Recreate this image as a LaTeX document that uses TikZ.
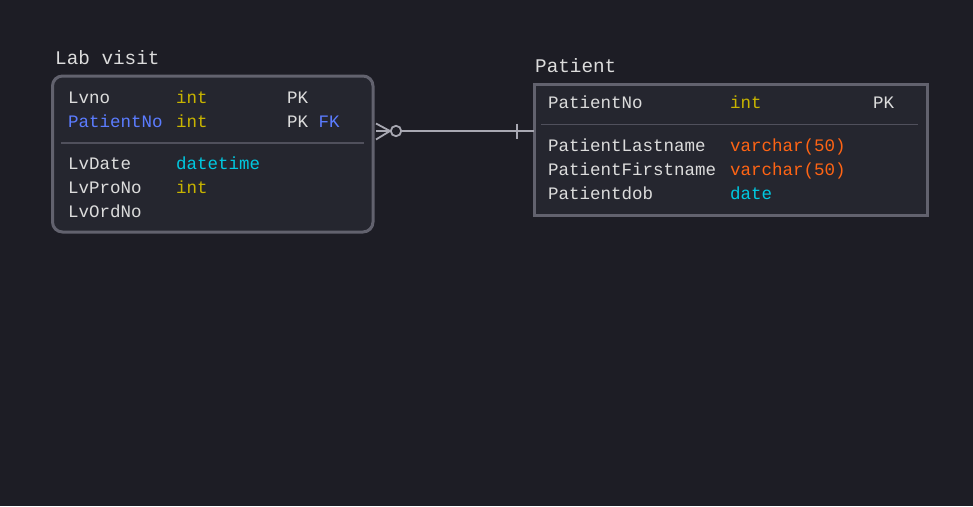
\documentclass[tikz,border=0pt]{standalone}
\usepackage{fontspec}
\setmonofont{Liberation Mono}
\usepackage{tikz}
\usetikzlibrary{positioning,calc}
\definecolor{bgdark}{HTML}{1D1D25}
\definecolor{boxfill}{HTML}{25262F}
\definecolor{boxline}{HTML}{62626E}
\definecolor{divline}{HTML}{50505C}
\definecolor{txtwhite}{HTML}{DCDCDC}
\definecolor{typeyel}{HTML}{C8B400}
\definecolor{keyblue}{HTML}{5B7CFF}
\definecolor{typecyan}{HTML}{00C8E0}
\definecolor{typeorange}{HTML}{FF6414}
\definecolor{connline}{HTML}{A8A8B2}

\begin{document}
\begin{tikzpicture}[x=1pt, y=-1pt,
  cell/.style={font=\ttfamily\fontsize{17.5}{20}\selectfont, txtwhite, inner sep=0pt, anchor=base west},
  title/.style={cell, font=\ttfamily\fontsize{19.3}{22}\selectfont},
  table/.style={draw=boxline, line width=3pt, fill=boxfill, anchor=north west, inner sep=0pt, outer sep=0pt},
  conn/.style={connline, line width=1.8pt}]

% Background
\useasboundingbox[fill=bgdark] (0,0) rectangle (973,506);

% Lab visit table
\node[title] (lvtitle) at (55,64) {Lab visit};
\node[table, rounded corners=10pt, minimum width=320.5pt, minimum height=156pt] (labvisit) at (52.5,76) {};
\draw[divline, line width=1.5pt] (61,143) -- (364,143);

\node[cell] (lvno) at (68,103) {Lvno};
\node[cell, typeyel] (lvnotype) at (176,103) {int};
\node[cell] (lvnokey) at (287,103) {PK};
\node[cell, keyblue] (lvpat) at (68,127) {PatientNo};
\node[cell, typeyel] (lvpattype) at (176,127) {int};
\node[cell] (lvpatkey) at (287,127) {PK \textcolor{keyblue}{FK}};

\node[cell] (lvdate) at (68,169) {LvDate};
\node[cell, typecyan] (lvdatetype) at (176,169) {datetime};
\node[cell] (lvpro) at (68,193.5) {LvProNo};
\node[cell, typeyel] (lvprotype) at (176,193.5) {int};
\node[cell] (lvord) at (68,217.5) {LvOrdNo};

% Patient table
\node[title] (pttitle) at (535,72) {Patient};
\node[table, minimum width=393pt, minimum height=131pt] (patient) at (534,84) {};
\draw[divline, line width=1.5pt] (541,124.5) -- (918,124.5);

\node[cell] (ptno) at (548,108.5) {PatientNo};
\node[cell, typeyel] (ptnotype) at (730,108.5) {int};
\node[cell] (ptnokey) at (873,108.5) {PK};

\node[cell] (ptlast) at (548,151.5) {PatientLastname};
\node[cell, typeorange] (ptlasttype) at (730,151.5) {varchar(50)};
\node[cell] (ptfirst) at (548,175.5) {PatientFirstname};
\node[cell, typeorange] (ptfirsttype) at (730,175.5) {varchar(50)};
\node[cell] (ptdob) at (548,199.5) {Patientdob};
\node[cell, typecyan] (ptdobtype) at (730,199.5) {date};

% Relationship: zero or many -- one
\coordinate (lvend) at ([yshift=23pt]labvisit.east);
\coordinate (ptend) at ([yshift=18.5pt]patient.west);
\draw[conn] ($(lvend)+(3,-7.5)$) -- ($(lvend)+(17,0)$) -- ($(lvend)+(3,8.5)$);
\draw[conn] ($(lvend)+(3,0)$) -- ($(lvend)+(17.5,0)$);
\draw[conn] ($(lvend)+(23,0)$) circle (5.2pt);
\draw[conn] ($(lvend)+(28.2,0)$) -- (ptend);
\draw[conn] ($(ptend)+(-17,-7.5)$) -- ($(ptend)+(-17,8)$);

\end{tikzpicture}
\end{document}
